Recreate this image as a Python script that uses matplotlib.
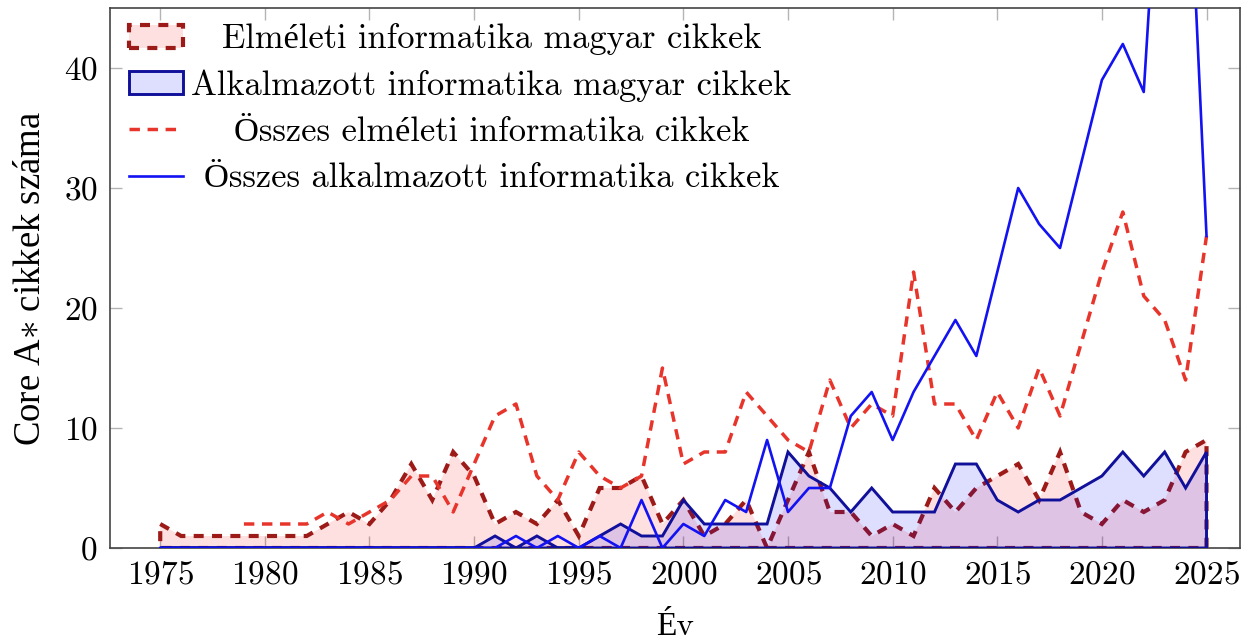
import numpy as np
import matplotlib
matplotlib.use("Agg")
import matplotlib.pyplot as plt

# ---------------- data ----------------
years = list(range(1975, 2026))
elm_magyar = [2, 1, 1, 1, 1, 1, 1, 1, 2, 3, 2, 4, 7, 4, 8, 6, 2, 3, 2, 4,
              1, 5, 5, 6, 2, 4, 1, 2, 4, 0, 4, 8, 3, 3, 1, 2, 1, 5, 3, 5,
              6, 7, 4, 8, 3, 2, 4, 3, 4, 8, 9]
alk_magyar = [0] * 16 + [1, 0, 1, 0, 0, 1, 2, 1, 1, 4, 2, 2, 2, 2, 8, 6, 5, 3,
                         5, 3, 3, 3, 7, 7, 4, 3, 4, 4, 5, 6, 8, 6, 8, 5, 8]
osszes_elm = [None] * 4 + [2, 2, 2, 2, 3, 2, 3, 4, 6, 6, 3, 7, 11, 12, 6, 4,
                           8, 6, 5, 6, 15, 7, 8, 8, 13, 11, 9, 8, 14, 10, 12,
                           11, 23, 12, 12, 9, 13, 10, 15, 11, 17, 23, 28, 21,
                           19, 14, 26]
osszes_alk = [0] * 17 + [1, 0, 1, 0, 1, 0, 4, 0, 2, 1, 4, 3, 9, 3, 5, 5, 11,
                         13, 9, 13, 16, 19, 16, 23, 30, 27, 25, 32, 39, 42,
                         38, 66, 64, 26]

labels = ["Elméleti informatika magyar cikkek",
          "Alkalmazott informatika magyar cikkek",
          "Összes elméleti informatika cikkek",
          "Összes alkalmazott informatika cikkek"]
xlabel = "Év"
ylabel = "Core A$\\ast$ cikkek száma"
xticks = years[::5]
yticks = [0, 10, 20, 30, 40]

# ---------------- style ----------------
plt.rcParams["font.family"] = ["cmr10", "Liberation Serif"]
plt.rcParams["mathtext.fontset"] = "cm"
plt.rcParams["axes.formatter.use_mathtext"] = True

DARKRED = "#9c1a18"
NAVY = "#10109a"
RED = "#e8352b"
BLUE = "#1212f2"
FILL_RED = (1.0, 0.0, 0.0, 0.12)
FILL_BLUE = (0.0, 0.0, 1.0, 0.13)

fig = plt.figure(figsize=(12.55, 6.41), dpi=100)
ax = fig.add_axes([110 / 1255, 93 / 641, 1130 / 1255, 540 / 641])

x = np.array(years, dtype=float)
a = np.array(elm_magyar, dtype=float)
b = np.array(alk_magyar, dtype=float)
c = np.array([np.nan if v is None else v for v in osszes_elm], dtype=float)
d = np.array(osszes_alk, dtype=float)

xc = np.concatenate([x, [x[-1], x[0]]])
ax.fill(xc, np.concatenate([a, [0, 0]]), facecolor=FILL_RED, edgecolor=DARKRED,
        linewidth=3.0, linestyle=(0, (2.4, 2.0)), zorder=2, label=labels[0])
ax.fill(xc, np.concatenate([b, [0, 0]]), facecolor=FILL_BLUE, edgecolor=NAVY,
        linewidth=2.1, zorder=3, label=labels[1])
ax.plot(x, c, color=RED, linewidth=2.5, linestyle=(0, (3.0, 2.2)), zorder=4,
        label=labels[2])
ax.plot(x, d, color=BLUE, linewidth=1.9, zorder=5, label=labels[3])

ax.set_xlim(1972.6, 2026.6)
ax.set_ylim(0, 45)
ax.set_xticks(xticks)
ax.set_yticks(yticks)
ax.tick_params(direction="in", length=8.6, width=1.0, color="#b4b4b4",
               top=True, right=True, labelsize=24, pad=9)
for s in ax.spines.values():
    s.set_color("#444444")
    s.set_linewidth(1.2)

ax.set_xlabel(xlabel, fontsize=24, labelpad=16)
ax.set_ylabel(ylabel, fontsize=26.5, labelpad=11,
              family=["Liberation Serif"])

leg = ax.legend(loc="upper left", bbox_to_anchor=(0.017, 0.972), frameon=False,
                fontsize=24.8, handlelength=1.55, handleheight=0.65,
                handletextpad=0.25, labelspacing=0.42, borderpad=0,
                borderaxespad=0)

# centre the legend texts in their column (pgfplots style)
fig.canvas.draw()
r = fig.canvas.get_renderer()
texts = leg.get_texts()
ws = [t.get_window_extent(r).width for t in texts]
maxw = max(ws)
col = leg._legend_handle_box.get_children()[0]
for hp, w in zip(col.get_children(), ws):
    hp.sep = hp.sep + (maxw - w) / 2 * 72.0 / fig.dpi

fig.savefig("out.png", dpi=100)
